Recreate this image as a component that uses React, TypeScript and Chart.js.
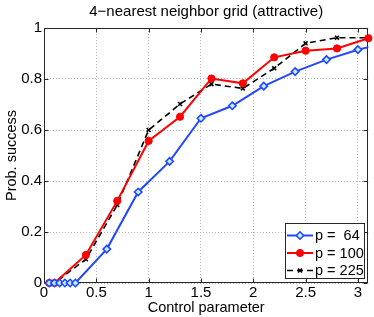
import React, { useEffect, useRef } from "react";
import { Chart, registerables } from "chart.js";
import { drawPoint } from "chart.js/helpers";

Chart.register(...registerables);

const FONT = "'Liberation Sans', Arial, Helvetica, sans-serif";
const FS = 14.5;
const FS_TICK = 15;
const FS_TITLE = 15;

const chartTitle = "4\u2212nearest neighbor grid (attractive)";
const xTitle = "Control parameter";
const yTitle = "Prob. success";

const xP64 = [0.05, 0.1, 0.15, 0.2, 0.25, 0.3, 0.6, 0.9, 1.2, 1.5, 1.8, 2.1, 2.4, 2.7, 3.0, 3.3];
const yP64 = [0, 0, 0, 0, 0, 0, 0.133, 0.357, 0.477, 0.646, 0.695, 0.772, 0.829, 0.876, 0.915, 0.945];

const xP100 = [0.05, 0.1, 0.4, 0.7, 1.0, 1.3, 1.6, 1.9, 2.2, 2.5, 2.8, 3.1];
const yP100 = [0, 0, 0.11, 0.322, 0.557, 0.652, 0.802, 0.783, 0.885, 0.911, 0.92, 0.96];

const xP225 = [0.05, 0.1, 0.4, 0.7, 1.0, 1.3, 1.6, 1.9, 2.2, 2.5, 2.8, 3.1];
const yP225 = [0, 0, 0.093, 0.306, 0.6, 0.702, 0.78, 0.763, 0.842, 0.94, 0.962, 0.962];

const seriesLabels = ["p =  64", "p = 100", "p = 225"];

const xMin = 0;
const xMax = 3.1;
const xStep = 0.5;
const yMin = 0;
const yMax = 1;
const yStep = 0.2;

const toPts = (xs: number[], ys: number[]) => xs.map((x, i) => ({ x, y: ys[i] }));
const fmt = (v: any) => String(Number(Number(v).toFixed(3)));

const boxPlugin = {
  id: "matlabBox",
  beforeDatasetsDraw(chart: any) {
    const { ctx, chartArea, scales } = chart;
    const l = Math.round(chartArea.left) + 0.5;
    const r = Math.round(chartArea.right) - 0.5;
    const t = Math.round(chartArea.top) + 0.5;
    const b = Math.round(chartArea.bottom) - 0.5;
    ctx.save();
    ctx.strokeStyle = "#262626";
    ctx.lineWidth = 1;
    ctx.setLineDash([]);
    ctx.strokeRect(l, t, r - l, b - t);
    const tl = 4;
    ctx.beginPath();
    scales.x.ticks.forEach((tk: any) => {
      const px = Math.round(scales.x.getPixelForValue(tk.value)) + 0.5;
      ctx.moveTo(px, b);
      ctx.lineTo(px, b - tl);
      ctx.moveTo(px, t);
      ctx.lineTo(px, t + tl);
    });
    scales.y.ticks.forEach((tk: any) => {
      const py = Math.round(scales.y.getPixelForValue(tk.value)) + 0.5;
      ctx.moveTo(l, py);
      ctx.lineTo(l + tl, py);
      ctx.moveTo(r, py);
      ctx.lineTo(r - tl, py);
    });
    ctx.stroke();
    ctx.restore();
  },
};

const legendPlugin = {
  id: "matlabLegend",
  afterDraw(chart: any) {
    const { ctx, chartArea } = chart;
    const w = 79;
    const h = 55;
    const x0 = Math.round(chartArea.right - 4 - w) + 0.5;
    const y0 = Math.round(chartArea.bottom - 5 - h) + 0.5;
    ctx.save();
    ctx.fillStyle = "#ffffff";
    ctx.fillRect(x0, y0, w, h);
    ctx.strokeStyle = "#262626";
    ctx.lineWidth = 1;
    ctx.setLineDash([]);
    ctx.strokeRect(x0, y0, w, h);
    chart.data.datasets.forEach((ds: any, i: number) => {
      const cy = y0 + 12 + i * 17.5;
      const lx0 = x0 + 1.5;
      const lx1 = lx0 + 26;
      ctx.save();
      ctx.strokeStyle = ds.borderColor;
      ctx.lineWidth = ds.borderWidth;
      ctx.setLineDash(ds.borderDash || []);
      ctx.beginPath();
      ctx.moveTo(lx0, cy);
      ctx.lineTo(lx1, cy);
      ctx.stroke();
      ctx.setLineDash([]);
      ctx.fillStyle = ds.pointBackgroundColor;
      ctx.strokeStyle = ds.pointBorderColor;
      ctx.lineWidth = ds.pointBorderWidth;
      drawPoint(ctx, { pointStyle: ds.pointStyle, radius: ds.pointRadius, rotation: 0, borderWidth: ds.pointBorderWidth } as any, (lx0 + lx1) / 2, cy);
      ctx.restore();
      ctx.fillStyle = "#000000";
      ctx.font = `${FS}px ${FONT}`;
      ctx.textAlign = "left";
      ctx.textBaseline = "middle";
      ctx.fillText(ds.label, lx1 + 2, cy + 0.5);
    });
    ctx.restore();
  },
};

export default function App() {
  const ref = useRef<HTMLCanvasElement | null>(null);
  useEffect(() => {
    if (!ref.current) return;
    const blue = "rgb(35,70,255)";
    const red = "#ff0000";
    const chart = new Chart(ref.current, {
      type: "line",
      data: {
        datasets: [
          {
            label: seriesLabels[0],
            data: toPts(xP64, yP64),
            borderColor: blue,
            borderWidth: 2,
            pointStyle: "rectRot",
            pointRadius: 3.7,
            pointBorderWidth: 1.6,
            pointBackgroundColor: "#bff0ff",
            pointBorderColor: blue,
            tension: 0,
            clip: { left: 6, top: 6, bottom: 6, right: 0 } as any,
          },
          {
            label: seriesLabels[1],
            data: toPts(xP100, yP100),
            borderColor: red,
            borderWidth: 2,
            pointStyle: "circle",
            pointRadius: 3.6,
            pointBorderWidth: 1,
            pointBackgroundColor: red,
            pointBorderColor: red,
            tension: 0,
            clip: false as any,
          },
          {
            label: seriesLabels[2],
            data: toPts(xP225, yP225),
            borderColor: "#000000",
            borderWidth: 1.6,
            borderDash: [6, 4],
            pointStyle: "crossRot",
            pointRadius: 2.8,
            pointBorderWidth: 1.6,
            pointBackgroundColor: "#000000",
            pointBorderColor: "#000000",
            tension: 0,
            clip: false as any,
          },
        ],
      },
      options: {
        animation: false,
        responsive: true,
        maintainAspectRatio: false,
        layout: { padding: { left: 0, right: 5, top: 0, bottom: 0 } },
        plugins: {
          legend: { display: false },
          tooltip: { enabled: false },
          title: {
            display: true,
            text: chartTitle,
            fullSize: false,
            color: "#000000",
            font: { family: FONT, size: FS_TITLE, weight: "normal", lineHeight: 1.2 },
            padding: { top: 3, bottom: 7 },
          },
        },
        scales: {
          x: {
            type: "linear",
            min: xMin,
            max: xMax,
            ticks: {
              stepSize: xStep,
              includeBounds: false,
              color: "#000000",
              font: { family: FONT, size: FS_TICK },
              padding: 1,
              maxRotation: 0,
              callback: fmt,
            },
            grid: { color: "#b4b4b4", drawTicks: false, lineWidth: 1 },
            border: { display: false, dash: [1, 2] },
            title: {
              display: true,
              text: xTitle,
              color: "#000000",
              font: { family: FONT, size: FS },
              padding: { top: 0, bottom: 0 },
            },
            afterFit: (s: any) => {
              s.height = 34;
            },
          },
          y: {
            type: "linear",
            min: yMin,
            max: yMax,
            ticks: {
              stepSize: yStep,
              includeBounds: false,
              color: "#000000",
              font: { family: FONT, size: FS_TICK },
              padding: 2,
              callback: fmt,
            },
            grid: { color: "#b4b4b4", drawTicks: false, lineWidth: 1 },
            border: { display: false, dash: [1, 2] },
            title: {
              display: true,
              text: yTitle,
              color: "#000000",
              font: { family: FONT, size: FS },
              padding: { top: 3, bottom: 0 },
            },
            afterFit: (s: any) => {
              s.width = 44;
            },
          },
        },
      },
      plugins: [boxPlugin, legendPlugin],
    } as any);
    return () => chart.destroy();
  }, []);
  return (
    <div style={{ position: "fixed", left: 0, top: 0, width: 374, height: 317, background: "#ffffff" }}>
      <canvas ref={ref} />
    </div>
  );
}
